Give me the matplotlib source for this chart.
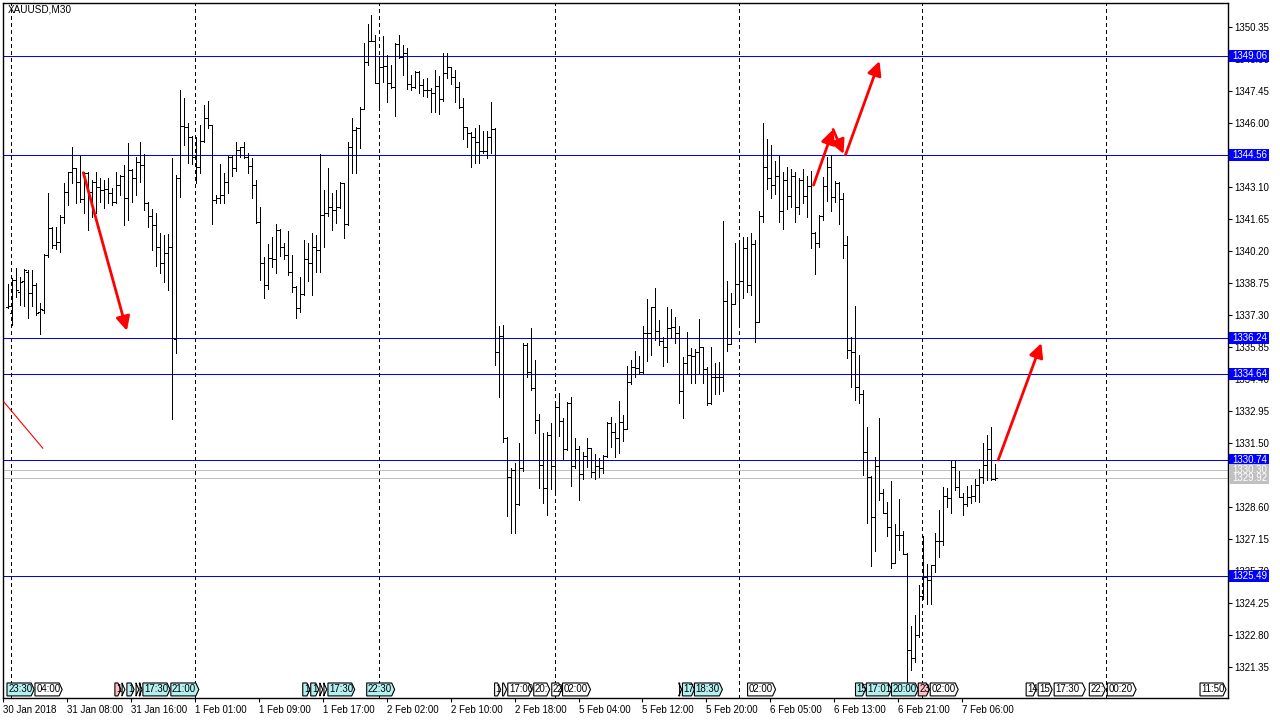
import numpy as np
import matplotlib
matplotlib.use("Agg")
import matplotlib.pyplot as plt
import matplotlib.transforms as mtransforms
from matplotlib.patches import Polygon, Rectangle

plt.rcParams['font.family'] = ['Liberation Sans', 'DejaVu Sans']

# XAUUSD M30 bars
opens = [
    1337.68, 1337.38, 1338.89, 1338.36, 1338.86, 1339.26, 1338.28, 1338.66, 1337.45, 1337.53,
    1340.02, 1341.23, 1340.47, 1340.62, 1341.76, 1342.89, 1343.79, 1343.95, 1343.34, 1342.54,
    1343.72, 1342.89, 1343.34, 1343.12, 1342.96, 1343.01, 1342.84, 1342.44, 1343.19, 1343.61,
    1342.59, 1343.87, 1343.49, 1344.25, 1344.10, 1342.39, 1341.79, 1341.38, 1340.40, 1339.67,
    1340.12, 1340.37, 1336.20, 1343.49, 1345.86, 1345.80, 1345.38, 1344.47, 1344.02, 1345.18,
    1346.21, 1345.91, 1342.51, 1342.59, 1342.74, 1343.34, 1344.47, 1343.95, 1344.78, 1344.90,
    1344.47, 1344.05, 1343.19, 1341.53, 1339.67, 1338.66, 1339.87, 1339.82, 1341.15, 1340.40,
    1340.02, 1339.26, 1338.58, 1337.60, 1338.25, 1339.82, 1339.64, 1340.37, 1340.25, 1341.83,
    1341.91, 1342.18, 1342.06, 1342.21, 1343.27, 1341.41, 1344.90, 1345.68, 1345.76, 1346.62,
    1348.75, 1349.73, 1349.73, 1347.80, 1348.52, 1348.58, 1347.83, 1347.65, 1349.56, 1348.98,
    1349.16, 1347.77, 1347.62, 1348.33, 1347.72, 1347.50, 1347.50, 1347.34, 1347.68, 1347.07,
    1348.28, 1348.52, 1348.07, 1347.65, 1346.71, 1345.80, 1345.53, 1345.35, 1345.15, 1344.75,
    1344.75, 1345.38, 1345.71, 1335.64, 1336.35, 1331.71, 1329.95, 1330.28, 1328.74, 1330.36,
    1335.94, 1334.73, 1333.98, 1332.54, 1330.51, 1329.45, 1331.87, 1330.46, 1333.15, 1332.51,
    1331.22, 1333.33, 1330.46, 1331.22, 1330.10, 1330.91, 1331.26, 1330.20, 1330.46, 1330.36,
    1330.91, 1332.42, 1332.02, 1331.71, 1332.47, 1332.12, 1334.28, 1334.93, 1334.89, 1334.73,
    1336.50, 1336.50, 1337.65, 1336.59, 1336.14, 1335.84, 1336.70, 1336.74, 1336.50, 1333.87,
    1335.14, 1335.49, 1335.44, 1335.64, 1335.84, 1334.84, 1333.30, 1334.51, 1334.51, 1334.48,
    1337.95, 1335.99, 1337.80, 1338.71, 1338.86, 1340.32, 1338.66, 1340.50, 1337.00, 1341.80,
    1344.00, 1343.50, 1343.20, 1343.60, 1342.00, 1343.40, 1342.70, 1343.60, 1342.20, 1343.40,
    1342.69, 1343.14, 1341.03, 1340.58, 1341.78, 1343.14, 1343.99, 1342.63, 1343.29, 1342.58,
    1340.47, 1335.71, 1335.64, 1334.02, 1333.72, 1331.11, 1329.98, 1328.13, 1330.46, 1329.22,
    1328.32, 1327.71, 1326.08, 1327.33, 1327.33, 1326.47, 1322.12, 1321.75, 1322.80, 1324.57,
    1325.45, 1325.29, 1325.97, 1327.08, 1327.08, 1329.10, 1328.99, 1330.43, 1329.49, 1329.04,
    1328.74, 1329.07, 1329.10, 1329.60, 1329.95, 1330.50, 1331.21, 1329.86,
]
highs = [
    1338.71, 1338.96, 1339.42, 1339.04, 1339.37, 1339.34, 1339.34, 1338.74, 1337.86, 1340.09,
    1342.81, 1341.30, 1341.30, 1341.83, 1343.27, 1343.79, 1344.90, 1343.95, 1344.52, 1343.79,
    1343.79, 1343.42, 1343.79, 1343.49, 1343.42, 1343.49, 1343.04, 1343.79, 1343.64, 1344.10,
    1345.11, 1343.90, 1344.47, 1345.15, 1344.60, 1342.44, 1342.09, 1341.91, 1341.03, 1340.93,
    1340.97, 1344.43, 1343.64, 1347.50, 1347.12, 1345.99, 1345.41, 1345.38, 1345.91, 1346.82,
    1347.01, 1345.91, 1342.74, 1344.14, 1343.72, 1344.52, 1344.55, 1345.15, 1344.93, 1345.15,
    1344.63, 1344.40, 1343.42, 1342.21, 1339.94, 1340.52, 1340.85, 1341.42, 1341.20, 1340.55,
    1341.12, 1340.02, 1338.61, 1339.04, 1340.70, 1340.58, 1341.03, 1340.93, 1344.60, 1342.96,
    1343.98, 1342.84, 1342.96, 1343.34, 1343.27, 1345.15, 1346.21, 1345.83, 1346.71, 1349.64,
    1350.49, 1350.89, 1349.99, 1349.01, 1349.94, 1349.08, 1348.63, 1349.61, 1349.99, 1349.53,
    1349.38, 1348.17, 1348.37, 1348.37, 1347.98, 1348.02, 1347.57, 1348.40, 1348.13, 1349.19,
    1349.19, 1348.52, 1348.40, 1347.87, 1347.12, 1345.83, 1345.61, 1345.76, 1345.91, 1345.65,
    1345.65, 1346.97, 1345.76, 1336.80, 1336.85, 1331.76, 1330.36, 1330.58, 1331.49, 1336.02,
    1336.02, 1336.70, 1335.26, 1332.82, 1331.94, 1332.02, 1332.39, 1333.38, 1333.78, 1332.62,
    1333.38, 1333.57, 1331.71, 1331.37, 1331.11, 1331.71, 1331.26, 1331.00, 1330.81, 1330.96,
    1332.47, 1332.67, 1332.39, 1333.42, 1332.77, 1334.99, 1335.26, 1335.69, 1335.44, 1336.80,
    1338.01, 1337.68, 1338.51, 1337.08, 1336.29, 1337.65, 1337.56, 1337.23, 1336.80, 1335.38,
    1336.55, 1335.79, 1335.75, 1337.11, 1335.87, 1334.93, 1335.84, 1335.14, 1335.19, 1341.58,
    1338.86, 1338.31, 1340.55, 1340.55, 1340.82, 1340.85, 1341.00, 1340.70, 1342.00, 1346.00,
    1345.30, 1345.00, 1344.30, 1344.50, 1343.80, 1344.00, 1343.90, 1343.80, 1343.50, 1343.90,
    1343.60, 1343.84, 1341.07, 1341.83, 1343.54, 1344.44, 1344.55, 1343.39, 1343.34, 1342.81,
    1340.88, 1336.29, 1337.71, 1335.49, 1333.90, 1332.24, 1330.01, 1330.85, 1332.62, 1329.40,
    1328.84, 1329.80, 1327.83, 1328.95, 1327.53, 1326.53, 1323.21, 1323.71, 1325.07, 1327.29,
    1326.02, 1325.97, 1327.44, 1328.47, 1329.49, 1329.45, 1330.70, 1330.70, 1330.25, 1329.22,
    1329.55, 1329.60, 1329.86, 1330.31, 1331.49, 1331.86, 1332.24, 1330.55,
]
lows = [
    1337.60, 1336.85, 1338.13, 1337.75, 1337.71, 1337.19, 1337.71, 1337.30, 1336.44, 1337.41,
    1339.91, 1340.32, 1340.28, 1340.17, 1341.45, 1342.28, 1343.27, 1342.39, 1342.44, 1341.91,
    1341.15, 1341.73, 1341.91, 1342.44, 1342.13, 1342.36, 1342.28, 1342.36, 1342.74, 1341.38,
    1341.61, 1342.44, 1342.74, 1343.34, 1342.06, 1341.27, 1340.25, 1339.52, 1339.22, 1338.81,
    1338.43, 1332.57, 1335.59, 1342.63, 1345.00, 1344.17, 1344.14, 1343.27, 1343.75, 1345.15,
    1345.76, 1341.41, 1342.36, 1342.36, 1342.36, 1342.81, 1343.60, 1343.84, 1344.47, 1344.40,
    1343.75, 1342.59, 1341.45, 1338.89, 1338.06, 1338.46, 1339.49, 1339.19, 1339.97, 1339.82,
    1339.11, 1338.36, 1337.19, 1337.45, 1338.21, 1338.86, 1338.21, 1339.26, 1339.26, 1340.37,
    1341.79, 1341.15, 1341.48, 1342.13, 1340.77, 1341.38, 1343.75, 1343.72, 1344.85, 1346.62,
    1348.63, 1349.73, 1347.80, 1346.71, 1347.87, 1346.97, 1347.57, 1346.32, 1348.93, 1348.17,
    1347.54, 1347.50, 1347.57, 1347.34, 1347.22, 1347.16, 1346.51, 1346.51, 1346.41, 1347.01,
    1348.02, 1347.77, 1346.97, 1346.66, 1345.26, 1344.93, 1344.02, 1344.20, 1344.20, 1344.63,
    1344.40, 1344.63, 1335.03, 1333.60, 1331.56, 1328.20, 1327.41, 1327.44, 1328.69, 1330.25,
    1334.48, 1333.90, 1331.97, 1329.45, 1328.77, 1328.24, 1329.40, 1329.34, 1331.82, 1330.76,
    1331.19, 1329.55, 1330.36, 1328.92, 1329.86, 1330.40, 1329.95, 1329.86, 1329.95, 1330.16,
    1330.88, 1331.31, 1330.88, 1331.06, 1331.61, 1332.12, 1334.18, 1334.48, 1334.63, 1334.69,
    1335.23, 1335.49, 1336.17, 1335.94, 1334.99, 1335.19, 1336.25, 1336.02, 1333.30, 1332.62,
    1334.63, 1334.24, 1334.24, 1334.66, 1334.24, 1333.22, 1333.27, 1333.72, 1333.72, 1333.87,
    1335.69, 1335.99, 1337.80, 1336.95, 1338.06, 1338.36, 1338.20, 1336.10, 1337.00, 1341.50,
    1343.00, 1342.60, 1342.80, 1341.50, 1341.20, 1342.10, 1342.20, 1341.50, 1341.90, 1342.36,
    1341.75, 1340.36, 1339.16, 1340.39, 1341.63, 1342.48, 1342.03, 1342.43, 1341.42, 1339.87,
    1335.34, 1334.05, 1333.45, 1333.31, 1330.05, 1327.89, 1325.93, 1326.62, 1328.92, 1328.32,
    1327.29, 1325.82, 1326.08, 1326.65, 1326.47, 1320.40, 1321.20, 1321.59, 1322.73, 1324.42,
    1324.21, 1324.21, 1325.67, 1326.32, 1326.88, 1328.59, 1328.35, 1329.37, 1329.04, 1328.24,
    1328.65, 1328.77, 1328.89, 1328.84, 1329.67, 1329.83, 1329.85, 1329.85,
]
closes = [
    1337.71, 1338.89, 1338.43, 1338.81, 1339.34, 1338.28, 1338.66, 1337.38, 1337.56, 1340.02,
    1341.23, 1340.47, 1340.62, 1341.76, 1342.89, 1343.79, 1343.95, 1343.34, 1342.54, 1343.72,
    1342.89, 1343.34, 1343.12, 1342.96, 1343.01, 1342.84, 1342.44, 1343.19, 1343.61, 1342.59,
    1343.87, 1343.49, 1344.25, 1344.10, 1342.39, 1341.79, 1341.38, 1340.40, 1339.67, 1340.12,
    1340.37, 1336.24, 1343.49, 1345.86, 1345.80, 1345.38, 1344.47, 1344.02, 1345.18, 1346.21,
    1345.91, 1342.51, 1342.59, 1342.74, 1343.34, 1344.47, 1343.95, 1344.78, 1344.90, 1344.47,
    1344.05, 1343.19, 1341.53, 1339.67, 1338.66, 1339.87, 1339.82, 1341.15, 1340.40, 1340.02,
    1339.26, 1338.58, 1337.60, 1338.25, 1339.82, 1339.64, 1340.37, 1340.25, 1341.83, 1341.91,
    1342.18, 1342.06, 1342.21, 1343.27, 1341.41, 1344.90, 1345.68, 1345.76, 1346.62, 1348.75,
    1349.73, 1349.73, 1347.80, 1348.52, 1348.58, 1347.83, 1347.65, 1349.56, 1348.98, 1349.16,
    1347.77, 1347.62, 1348.33, 1347.72, 1347.50, 1347.50, 1347.34, 1347.68, 1347.07, 1348.28,
    1348.52, 1348.07, 1347.65, 1346.71, 1345.80, 1345.53, 1345.35, 1345.15, 1344.75, 1344.75,
    1345.38, 1345.71, 1335.64, 1336.35, 1331.71, 1329.95, 1330.28, 1328.74, 1330.36, 1335.94,
    1334.73, 1333.98, 1332.54, 1330.51, 1329.45, 1331.87, 1330.46, 1333.15, 1332.51, 1331.22,
    1333.33, 1330.46, 1331.22, 1330.10, 1330.91, 1331.26, 1330.20, 1330.46, 1330.36, 1330.91,
    1332.42, 1332.02, 1331.71, 1332.47, 1332.12, 1334.28, 1334.93, 1334.89, 1334.73, 1336.50,
    1336.50, 1337.65, 1336.59, 1336.14, 1335.84, 1336.70, 1336.74, 1336.50, 1333.87, 1335.14,
    1335.49, 1335.44, 1335.64, 1335.84, 1334.84, 1333.30, 1334.51, 1334.51, 1334.48, 1337.95,
    1335.99, 1337.80, 1338.71, 1338.86, 1340.32, 1338.66, 1340.50, 1337.00, 1341.80, 1344.00,
    1343.50, 1343.20, 1343.60, 1342.00, 1343.40, 1342.70, 1343.60, 1342.20, 1343.40, 1342.69,
    1343.14, 1341.03, 1340.58, 1341.78, 1343.14, 1343.99, 1342.63, 1343.29, 1342.58, 1340.47,
    1335.71, 1335.64, 1334.05, 1333.72, 1331.11, 1329.98, 1328.13, 1330.46, 1329.22, 1328.32,
    1327.71, 1326.08, 1327.33, 1327.33, 1326.47, 1322.12, 1321.75, 1322.80, 1324.57, 1325.45,
    1325.29, 1325.97, 1327.08, 1327.08, 1329.10, 1328.99, 1330.43, 1329.49, 1329.04, 1328.74,
    1329.07, 1329.10, 1329.60, 1329.95, 1330.50, 1331.21, 1329.86, 1329.92,
]

time_labels = ["30 Jan 2018", "31 Jan 08:00", "31 Jan 16:00", "1 Feb 01:00", "1 Feb 09:00",
               "1 Feb 17:00", "2 Feb 02:00", "2 Feb 10:00", "2 Feb 18:00", "5 Feb 04:00",
               "5 Feb 12:00", "5 Feb 20:00", "6 Feb 05:00", "6 Feb 13:00", "6 Feb 21:00",
               "7 Feb 06:00"]
day_starts = [0.8, 46.8, 92.8, 136.8, 183.0, 228.8, 274.8]

price_ticks = [1321.35, 1322.80, 1324.25, 1325.70, 1327.15, 1328.60, 1330.05, 1331.50,
               1332.95, 1334.40, 1335.85, 1337.30, 1338.75, 1340.20, 1341.65, 1343.10,
               1344.55, 1346.00, 1347.45, 1348.90, 1350.35]

blue_levels = [1349.06, 1344.56, 1336.24, 1334.64, 1330.74, 1325.49]
bid_ask = [1330.30, 1329.92]

# trend arrows drawn on the chart: (bar0, price0, bar1, price1)
arrows = [
    (18.9, 1343.75, 29.8, 1336.59),
    (201.6, 1343.19, 206.5, 1345.71),
    (206.5, 1345.71, 209.1, 1344.60),
    (209.6, 1344.56, 218.1, 1348.81),
    (247.8, 1330.73, 258.6, 1336.03),
]
thin_line = (-1.0, 1333.37, 8.75, 1331.27)

# calendar events along the bottom: (start bar, end bar, text, colour)
CY, WH, PK = '#b4f0f0', 'white', '#ffc0c8'
events = [
    (-0.2, 6.6, "23:30", CY), (6.8, 13.6, "04:00", WH), (26.8, 28.3, "1", PK),
    (28.6, 29.3, "", WH), (29.8, 31.6, "1", CY), (32.1, 32.8, "", WH), (33.1, 33.6, "", WH),
    (33.8, 40.6, "17:30", CY), (40.8, 47.8, "21:00", CY), (73.8, 75.6, "1", CY),
    (75.8, 77.8, "1", CY), (78.1, 78.8, "", WH), (79.1, 79.8, "", WH), (80.1, 86.8, "17:30", CY),
    (89.8, 96.8, "22:30", CY), (121.8, 123.3, "1", WH), (123.8, 124.8, "", WH),
    (125.1, 131.1, "17:00", WH), (131.6, 135.6, "20:", WH), (136.1, 138.6, "22", WH),
    (138.8, 145.8, "02:00", WH), (168.1, 168.6, "", WH), (168.8, 171.8, "17", CY),
    (171.8, 178.8, "18:30", CY), (185.1, 192.1, "02:00", WH), (212.1, 214.6, "15", CY),
    (214.8, 221.1, "17:01", CY), (221.1, 227.8, "20:00", CY), (227.8, 230.6, "23", PK),
    (230.8, 237.8, "02:00", WH), (254.8, 257.3, "14", WH), (257.8, 261.3, "15", WH),
    (261.8, 269.6, "17:30", WH), (270.6, 274.6, "22:", WH), (275.1, 282.3, "00:20", WH),
    (298.3, 304.8, "11:50", WH),
]

FS = 7.0
PX = 0.72  # one screen pixel in points

fig = plt.figure(figsize=(12.8, 7.2), dpi=100)
ax = fig.add_axes([3 / 1280, 22 / 720, 1225 / 1280, 695 / 720])
ax.set_xlim(-0.925, 305.3)
ax.set_ylim(1319.95, 1351.44)

idx = np.arange(len(opens))
ax.vlines(idx, lows, highs, color='black', lw=PX, zorder=3, antialiased=False)
ax.hlines(opens, idx - 0.5, idx, color='black', lw=PX, zorder=3, antialiased=False)
ax.hlines(closes, idx, idx + 0.5, color='black', lw=PX, zorder=3, antialiased=False)

for d in day_starts:
    ax.axvline(d, color='black', lw=PX, ls=(0, (3 / PX * 0.72, 3 / PX * 0.72)), zorder=1,
               antialiased=False)

for p in blue_levels:
    ax.axhline(p, color='#0000ff', lw=PX, zorder=2, antialiased=False)
for p in bid_ask:
    ax.axhline(p, color='#c0c0c0', lw=PX, zorder=2, antialiased=False)

for x0, y0, x1, y1 in arrows:
    ax.annotate('', xy=(x1, y1), xytext=(x0, y0),
                arrowprops=dict(arrowstyle='-|>,head_length=0.7,head_width=0.35',
                                color='red', lw=2, shrinkA=0, shrinkB=0, mutation_scale=12),
                zorder=4)
ax.plot(thin_line[::2], thin_line[1::2], color='red', lw=0.8, zorder=4)

# axes styling
for s in ax.spines.values():
    s.set_color('black')
    s.set_linewidth(1.0)
ax.yaxis.tick_right()
ax.set_yticks(price_ticks)
ax.set_yticklabels([f'{p:.2f}' for p in price_ticks])
ax.tick_params(axis='y', direction='out', length=3, width=0.8, pad=1.5, labelsize=FS)
ax.set_xticks(np.arange(len(time_labels)) * 16 - 1.2)
ax.set_xticklabels(time_labels)
ax.tick_params(axis='x', direction='out', length=3, width=0.8, pad=2, labelsize=FS)
for lab in ax.get_xticklabels():
    lab.set_ha('left')

# price tags on the right axis
ytrans = mtransforms.blended_transform_factory(ax.transAxes, ax.transData)
tag_w = 40 / 1225
tag_h = 12 / 22.07
for levels, col in ((blue_levels, '#0000ff'), (bid_ask, '#c0c0c0')):
    for p in levels:
        ax.add_patch(Rectangle((1.0008, p - tag_h / 2), tag_w, tag_h, transform=ytrans,
                               fc=col, ec='none', clip_on=False, zorder=9))
        ax.text(1.0008 + 3 / 1225, p, f'{p:.2f}', transform=ytrans, color='white',
                fontsize=FS, va='center', ha='left', clip_on=False, zorder=10)

# event tags
xtrans = mtransforms.blended_transform_factory(ax.transData, ax.transAxes)
yb, yt = 0.003, 0.0216
for x0, x1, txt, col in events:
    tip = 0.75
    pts = [(x0, yb), (x1 - tip, yb), (x1, (yb + yt) / 2), (x1 - tip, yt), (x0, yt)]
    poly = Polygon(pts, closed=True, transform=xtrans, fc=col, ec='black', lw=0.8, zorder=6)
    ax.add_patch(poly)
    if txt:
        t = ax.text(x0 + 0.3, (yb + yt) / 2, txt, transform=xtrans, fontsize=FS,
                    va='center', ha='left', zorder=7)
        t.set_clip_path(poly)

ax.text(0.0035, 0.9975, 'XAUUSD,M30', transform=ax.transAxes, fontsize=7.2,
        va='top', ha='left', zorder=8)

fig.savefig('out.png', dpi=100)
